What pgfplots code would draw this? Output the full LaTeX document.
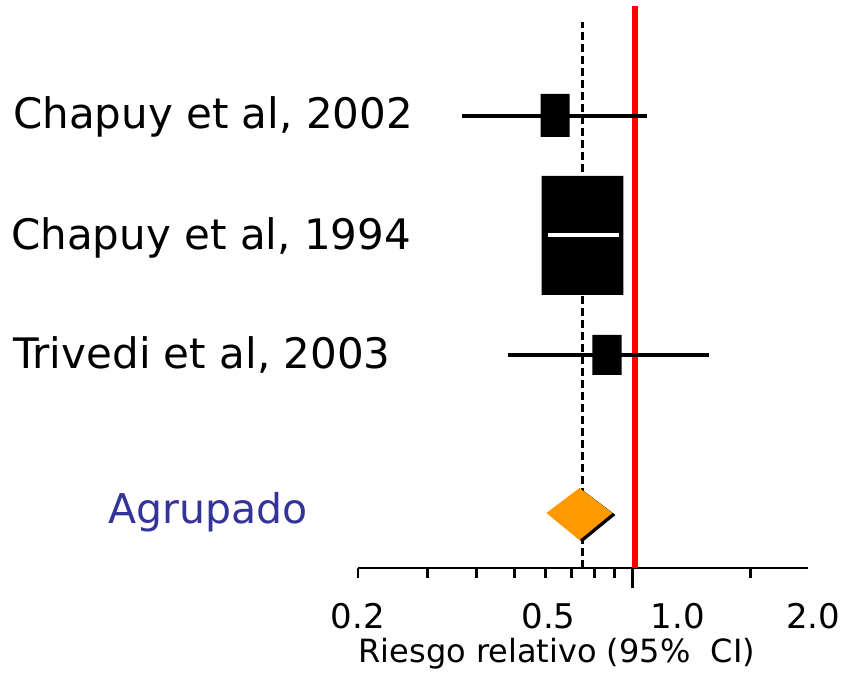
\documentclass[border=0pt]{standalone}
\usepackage{pgfplots}
\pgfplotsset{compat=1.18}
\usepackage{fontspec}
\setmainfont{DejaVu Sans}
\definecolor{pooled}{RGB}{255,153,0}
\definecolor{agrup}{RGB}{51,51,153}
\begin{document}
\begin{tikzpicture}
\useasboundingbox (0,0) rectangle (844bp,689bp);
\begin{axis}[
  at={(358bp,121bp)}, anchor=south west,
  scale only axis, width=450bp, height=568bp,
  xmode=log, xmin=0.2, xmax=2.8, ymin=0, ymax=568,
  axis x line*=bottom, axis y line=none,
  axis line style={line width=2.8bp, black},
  xtick={0.2,0.3,0.4,0.5,0.6,0.7,0.8,0.9,2},
  xticklabels={},
  extra x ticks={1}, extra x tick labels={},
  extra x tick style={major tick length=20bp},
  xminorticks=false,
  tick align=outside, major tick length=10bp,
  tick style={line width=2.8bp, black},
  clip=false,
]
% reference line at RR = 1
\addplot[red, line width=6bp] coordinates {(1.015,0) (1.015,562)};
% pooled estimate dashed line
\addplot[black, line width=3.5bp, dash pattern=on 8bp off 4bp] coordinates {(0.746,0) (0.746,546)};
% Chapuy 2002
\addplot[black, line width=4bp] coordinates {(0.3675,452) (1.092,452)};
\addplot[fill=black, draw=none] coordinates {(0.5836,431) (0.6916,431) (0.6916,474) (0.5836,474) (0.5836,431)};
% Chapuy 1994
\addplot[fill=black, draw=none] coordinates {(0.5868,273) (0.9487,273) (0.9487,392) (0.5868,392) (0.5868,273)};
\addplot[white, line width=4bp] coordinates {(0.608,333) (0.9267,333)};
% Trivedi 2003
\addplot[black, line width=4bp] coordinates {(0.481,213) (1.569,213)};
\addplot[fill=black, draw=none] coordinates {(0.791,193) (0.938,193) (0.938,233) (0.791,233) (0.791,193)};
% pooled diamond (shadow + diamond)
\addplot[fill=black, draw=none] coordinates {(0.746,78) (0.905,53) (0.746,26) (0.615,53) (0.746,78)};
\addplot[fill=pooled, draw=none] coordinates {(0.733,80) (0.889,55) (0.733,28) (0.604,55) (0.733,80)};
% study labels
\node[anchor=base west, inner sep=0pt, font=\fontsize{42bp}{48bp}\selectfont] at (axis description cs:-0.7667,0.7729) {Chapuy et al, 2002};
\node[anchor=base west, inner sep=0pt, font=\fontsize{42bp}{48bp}\selectfont] at (axis description cs:-0.7711,0.5616) {Chapuy et al, 1994};
\node[anchor=base west, inner sep=0pt, font=\fontsize{42bp}{48bp}\selectfont] at (axis description cs:-0.7667,0.3504) {Trivedi et al, 2003};
\node[anchor=base west, inner sep=0pt, text=agrup, font=\fontsize{41bp}{48bp}\selectfont] at (axis description cs:-0.5556,0.0792) {Agrupado};
% tick labels
\node[anchor=base, inner sep=0pt, yshift=-60bp, font=\fontsize{34bp}{40bp}\selectfont] at (axis cs:0.2,0) {0.2};
\node[anchor=base, inner sep=0pt, yshift=-60bp, font=\fontsize{34bp}{40bp}\selectfont] at (axis cs:0.6115,0) {0.5};
\node[anchor=base, inner sep=0pt, yshift=-60bp, font=\fontsize{34bp}{40bp}\selectfont] at (axis cs:1.305,0) {1.0};
\node[anchor=base, inner sep=0pt, yshift=-60bp, font=\fontsize{34bp}{40bp}\selectfont] at (axis cs:2.885,0) {2.0};
% axis title
\node[anchor=base, inner sep=0pt, yshift=-94bp, font=\fontsize{32bp}{38bp}\selectfont] at (axis description cs:0.442,0) {Riesgo relativo (95\%\ \ CI)};
\end{axis}
\end{tikzpicture}
\end{document}
